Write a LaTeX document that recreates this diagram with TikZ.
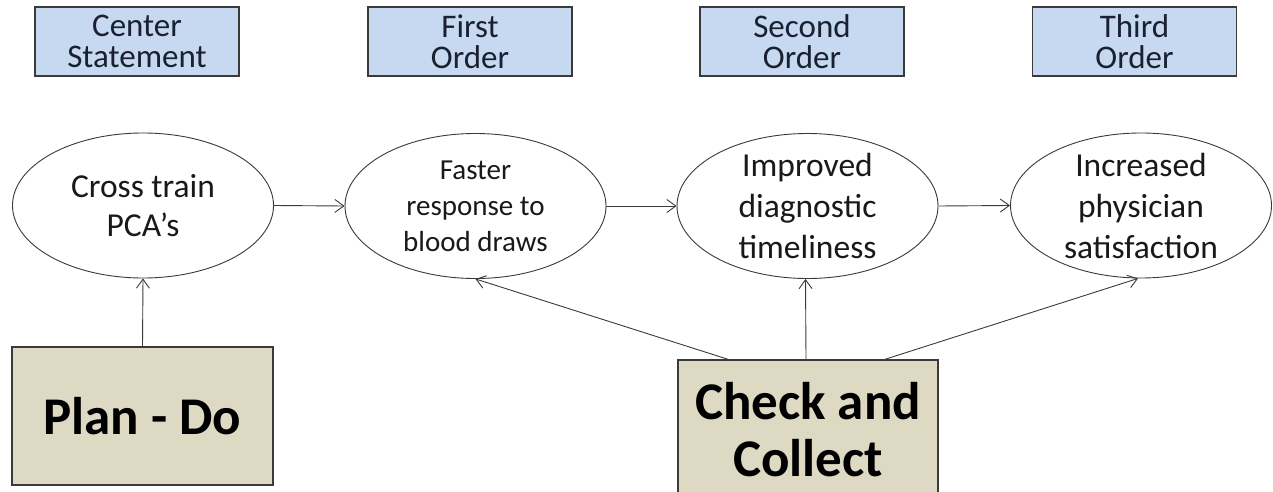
\documentclass[tikz,border=0pt]{standalone}
\usepackage{fontspec}
\setmainfont{Carlito}
\usetikzlibrary{shapes.geometric,arrows.meta,calc}
\definecolor{hdrblue}{HTML}{C6D9F1}
\definecolor{hdrtext}{HTML}{1A2030}
\definecolor{actfill}{HTML}{DDD9C3}
\definecolor{edge}{HTML}{3A3A3A}
\begin{document}
\begin{tikzpicture}[x=1pt,y=-1pt,
  header/.style={rectangle, draw=edge, line width=1.4pt, fill=hdrblue,
    minimum width=204pt, minimum height=69pt, inner sep=0pt, align=center,
    text=hdrtext, font=\fontsize{33}{31}\selectfont},
  goal/.style={ellipse, draw=edge, line width=0.9pt, fill=white,
    minimum width=261pt, minimum height=145pt, inner sep=-14pt, align=center,
    text=black!90, font=\fontsize{33.5}{41}\selectfont},
  action/.style={rectangle, draw=edge, line width=1.4pt, fill=actfill,
    minimum width=261pt, inner sep=0pt, align=center,
    text=black, font=\fontsize{53}{57}\selectfont\bfseries},
  link/.style={draw=edge, line width=0.9pt,
    -{Straight Barb[length=9pt,width=13pt,line width=0.9pt]}}]
\useasboundingbox (0,0) rectangle (1273,492);
\clip (0,0) rectangle (1273,492);

% column headings
\node[header] (h1) at (137,41.5) {Center\\Statement};
\node[header] (h2) at (470,41.5) {First\\Order};
\node[header] (h3) at (802,41.5) {Second\\Order};
\node[header] (h4) at (1134.5,41.5) {Third\\Order};

% chain of outcomes
\node[goal, font=\fontsize{33.5}{39}\selectfont] (e1) at (143,205.5) {Cross train\\PCA’s};
\node[goal, font=\fontsize{29}{36}\selectfont] (e2) at (475.5,206) {Faster\\response to\\blood draws};
\node[goal] (e3) at (807.5,206) {Improved\\diagnostic\\timeliness};
\node[goal] (e4) at (1141,205.5) {Increased\\physician\\satisfaction};

% action boxes
\node[action, minimum height=138pt] (plan) at (142.5,416) {Plan - Do};
\node[action, minimum width=260pt, minimum height=140pt] (chk) at (808,430) {Check and\\Collect};

% connectors
\draw[link] (e1.east) -- (e2.west);
\draw[link] (e2.east) -- (e3.west);
\draw[link] (e3.east) -- (e4.west);
\draw[link] (plan.north) -- (e1.south);
\draw[link] ($(chk.north)+(-80,0)$) -- (e2.south);
\draw[link] ($(chk.north)+(-2,0)$) -- ($(e3.south)+(-2,0)$);
\draw[link] ($(chk.north)+(77,0)$) -- ($(e4.south)+(-3,0)$);
\end{tikzpicture}
\end{document}
